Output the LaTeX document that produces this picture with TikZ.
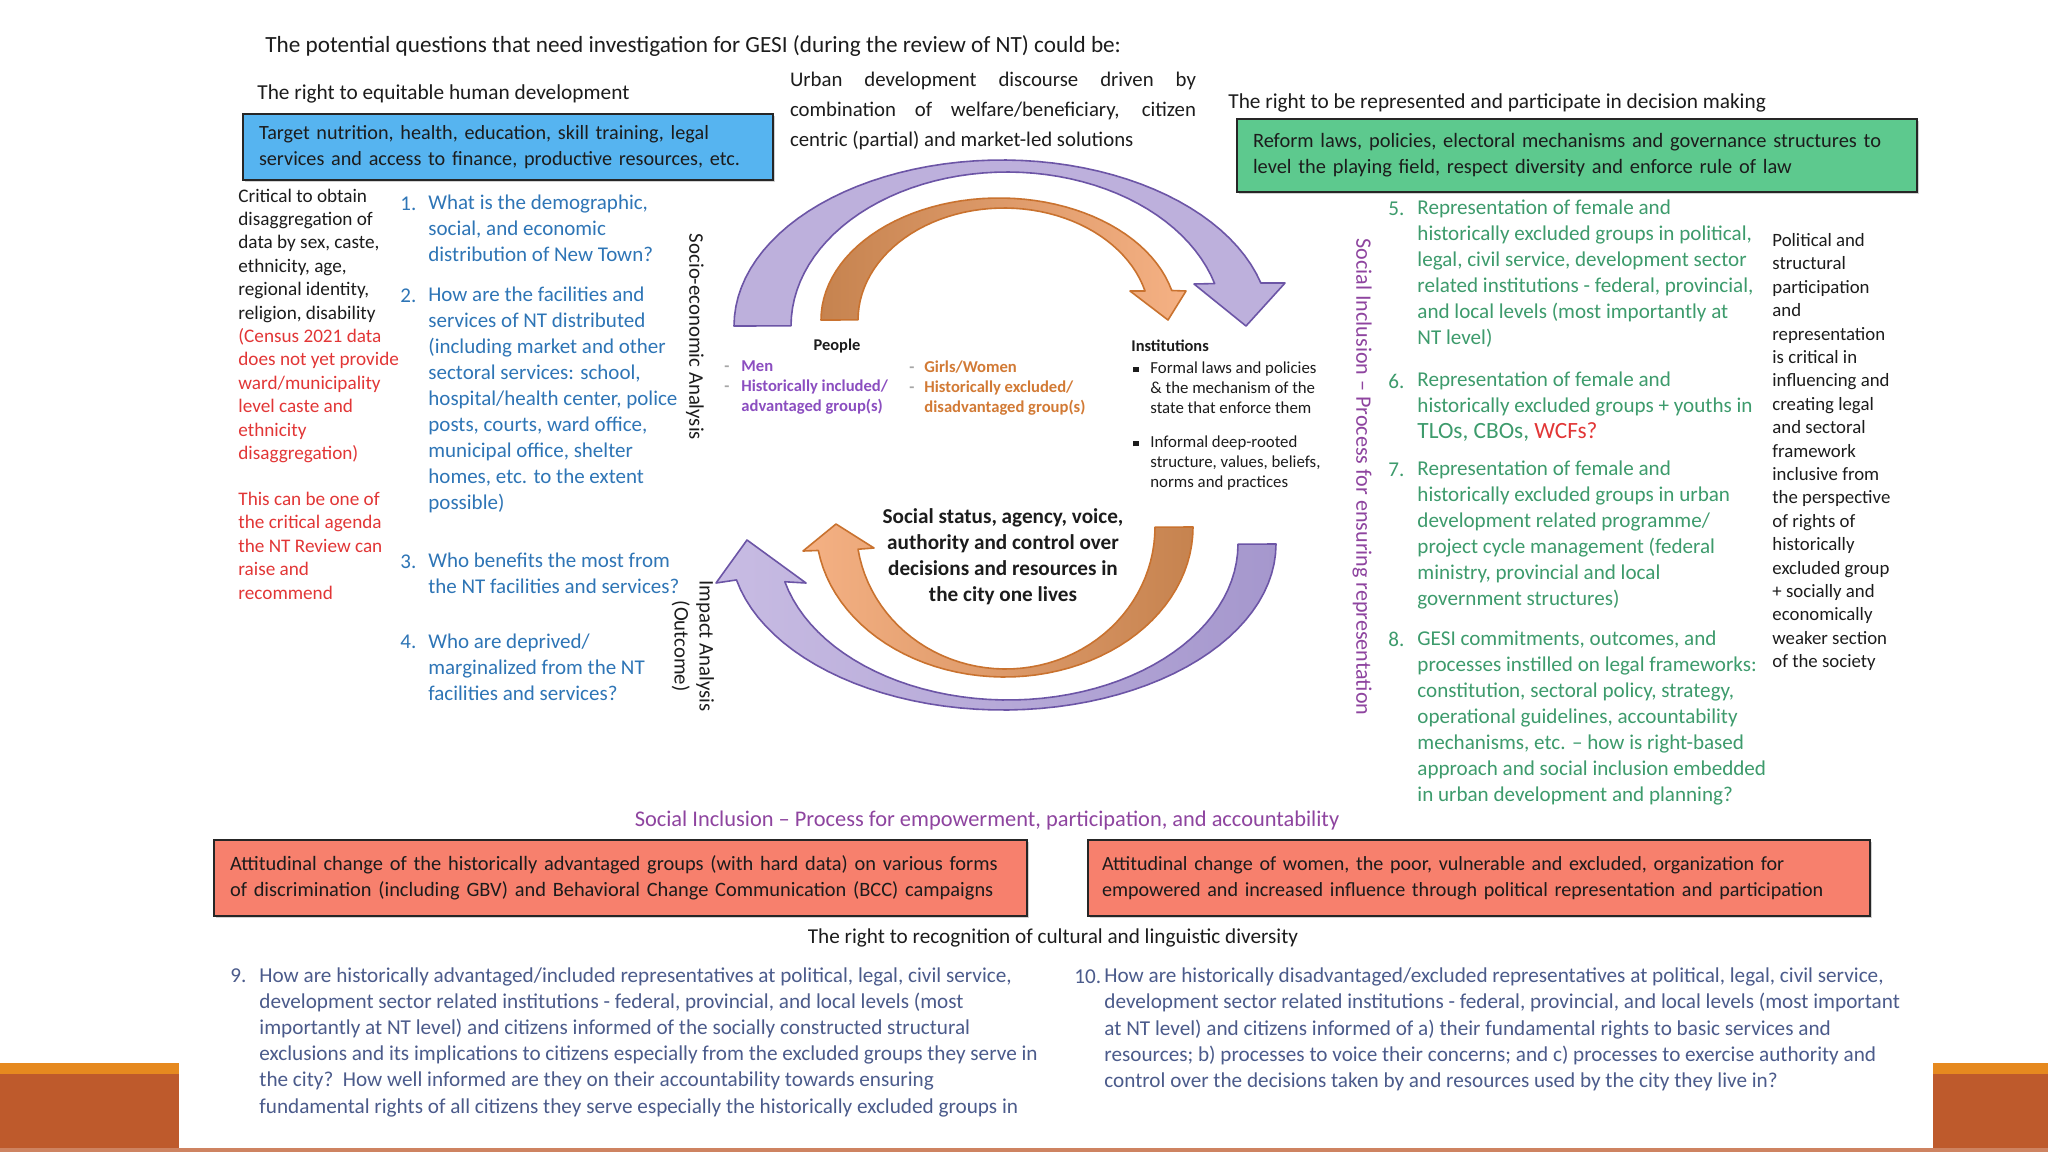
\documentclass[tikz,border=0pt]{standalone}
\usepackage{fontspec}
\setmainfont{Carlito}
\usepackage{xcolor}
\usepackage{tikz}
\usetikzlibrary{positioning,calc,shadows}
\definecolor{ink}{HTML}{1C1C1C}
\definecolor{qblue}{HTML}{2E75B6}
\definecolor{qgreen}{HTML}{3D9B6C}
\definecolor{qslate}{HTML}{4B5B8B}
\definecolor{alert}{HTML}{E23636}
\definecolor{plum}{HTML}{8E449F}
\definecolor{menpurple}{HTML}{8B4EC0}
\definecolor{womenorange}{HTML}{D27A35}
\definecolor{skyfill}{HTML}{56B4F0}
\definecolor{leaffill}{HTML}{5DC98E}
\definecolor{salmonfill}{HTML}{F7806D}
\definecolor{lilac}{HTML}{BDB0DC}
\definecolor{lilaclight}{HTML}{C8BCE3}
\definecolor{lilacdark}{HTML}{A597CD}
\definecolor{lilacedge}{HTML}{6C55A6}
\definecolor{peach}{HTML}{F5B184}
\definecolor{arcbrown}{HTML}{C6834F}
\definecolor{peachedge}{HTML}{C9722F}
\definecolor{rust}{HTML}{BE5A2C}
\definecolor{amberbar}{HTML}{E6891F}
\tikzset{
  every node/.style={inner sep=0pt,text=ink},
  heading/.style={font=\fontsize{11.6}{14}\selectfont},
  rightlabel/.style={font=\fontsize{10.65}{13}\selectfont},
  panel/.style={draw=black!85,line width=0.9pt,align=left,inner xsep=8pt,inner ysep=0pt,
    drop shadow={shadow xshift=0.8pt,shadow yshift=-1pt,opacity=.35}},
  needbox/.style={panel,fill=skyfill,font=\fontsize{10.1}{13}\selectfont},
  reformbox/.style={panel,fill=leaffill,font=\fontsize{10.2}{13}\selectfont},
  attitudebox/.style={panel,fill=salmonfill,font=\fontsize{10.2}{13}\selectfont},
  sidenote/.style={font=\fontsize{9.6}{11.7}\selectfont,align=left},
  bq/.style={font=\fontsize{10.5}{13}\selectfont,align=left,text=qblue},
  gq/.style={font=\fontsize{10.55}{13}\selectfont,align=left,text=qgreen},
  sq/.style={font=\fontsize{10.6}{13.1}\selectfont,align=left,text=qslate},
  vlabel/.style={rotate=-90,font=\fontsize{10.4}{12.5}\selectfont,align=center},
  grp/.style={font=\bfseries\fontsize{8.3}{10}\selectfont,align=left},
  inst/.style={font=\fontsize{8.4}{10}\selectfont,align=left},
  hub/.style={font=\bfseries\fontsize{10.6}{13}\selectfont,align=center},
  arcp/.style={draw=lilacedge,line width=0.8pt,line join=round},
  arco/.style={draw=peachedge,line width=0.8pt,line join=round}
}
\begin{document}
\begin{tikzpicture}[x=0.5pt,y=-0.5pt]
  \fill[white] (0,0) rectangle (2048,1152);
  \useasboundingbox (0,0) rectangle (2048,1152);

  % slide frame
  \fill[rust] (0,1063) rectangle (179,1152);
  \fill[amberbar] (0,1063) rectangle (179,1074);
  \fill[rust] (1933,1063) rectangle (2048,1152);
  \fill[amberbar] (1933,1063) rectangle (2048,1074);
  \fill[rust!75] (0,1148) rectangle (2048,1152);

  % curved arrows
  \filldraw[arcp,fill=lilac] (734,326)
    -- plot[domain=180:345,samples=50] ({1002+268*cos(\x)},{326+166*sin(\x)})
    -- (1285,283) -- (1246,326) -- (1194,284)
    -- plot[domain=0:1,samples=50] ({1007+216*cos(344-164*\x)},{326+154*sin(344-164*\x)})
    -- cycle;
  \shadedraw[arco,left color=arcbrown,right color=peach] (821,320)
    -- plot[domain=180:346,samples=50] ({999+178*cos(\x)},{320+122*sin(\x)})
    -- (1186,291) -- (1168,320) -- (1130,291)
    -- plot[domain=0:1,samples=50] ({1004+146*cos(345-165*\x)},{320+112*sin(345-165*\x)})
    -- cycle;
  \shadedraw[arcp,left color=lilaclight,right color=lilacdark] (1276,544)
    -- plot[domain=0:167.5,samples=50] ({1003+273*cos(\x)},{544+166*sin(\x)})
    -- (716,583) -- (747,540) -- (806,583)
    -- plot[domain=0:1,samples=50] ({1008+230*cos(166-166*\x)},{544+156*sin(166-166*\x)})
    -- cycle;
  \shadedraw[arco,left color=peach,right color=arcbrown] (1193,527)
    -- plot[domain=0:171,samples=50] ({1004.5+188.5*cos(\x)},{527+150*sin(\x)})
    -- (803,551) -- (836,524) -- (874,548)
    -- plot[domain=0:1,samples=50] ({1005.6+149.4*cos(171-171*\x)},{527+142*sin(171-171*\x)})
    -- cycle;

  % top row
  \node[heading,anchor=west] (title) at (265,46) {The potential questions that need investigation for GESI (during the review of NT) could be:};
  \node[rightlabel,anchor=west] (rightdev) at (257,94) {The right to equitable human development};
  \node[needbox,text width=249pt,minimum height=33pt] (needs) at (508,147) {Target nutrition, health, education, skill training, legal\\services and access to finance, productive resources, etc.};
  \node[font=\fontsize{10.4}{15}\selectfont,text width=203pt,align=justify] (discourse) at (993,111) {Urban development discourse driven by\linebreak combination of welfare/beneficiary, citizen\linebreak centric (partial) and market-led solutions};
  \node[rightlabel,anchor=west] (rightrep) at (1228,103) {The right to be represented and participate in decision making};
  \node[reformbox,text width=324pt,minimum height=36.5pt] (reform) at (1577,155.5) {Reform laws, policies, electoral mechanisms and governance structures to\\level the playing field, respect diversity and enforce rule of law};

  % left side
  \node[sidenote,anchor=west] (datanote) at (238,394) {Critical to obtain\\disaggregation of\\data by sex, caste,\\ethnicity, age,\\regional identity,\\religion, disability\\\textcolor{alert}{(Census 2021 data}\\\textcolor{alert}{does not yet provide}\\\textcolor{alert}{ward/municipality}\\\textcolor{alert}{level caste and}\\\textcolor{alert}{ethnicity}\\\textcolor{alert}{disaggregation)}\\[11.3pt]\textcolor{alert}{This can be one of}\\\textcolor{alert}{the critical agenda}\\\textcolor{alert}{the NT Review can}\\\textcolor{alert}{raise and}\\\textcolor{alert}{recommend}};
  \node[bq,anchor=west] (q1) at (428,228.5) {What is the demographic,\\social, and economic\\distribution of New Town?};
  \node[bq,anchor=west] (q2) at (428,400) {How are the facilities and\\services of NT distributed\\(including market and other\\sectoral services: school,\\hospital/health center, police\\posts, courts, ward office,\\municipal office, shelter\\homes, etc. to the extent\\possible)};
  \node[bq,anchor=west] (q3) at (428,573.5) {Who benefits the most from\\the NT facilities and services?};
  \node[bq,anchor=west] (q4) at (428,667) {Who are deprived/\\marginalized from the NT\\facilities and services?};
  \node[bq,anchor=north west] (n1) at ([xshift=-14pt,yshift=-0.8pt]q1.north west) {1.};
  \node[bq,anchor=north west] (n2) at ([xshift=-14pt,yshift=-0.8pt]q2.north west) {2.};
  \node[bq,anchor=north west] (n3) at ([xshift=-14pt,yshift=-0.8pt]q3.north west) {3.};
  \node[bq,anchor=north west] (n4) at ([xshift=-14pt,yshift=-0.8pt]q4.north west) {4.};
  \node[vlabel] (socio) at (695,337) {Socio-economic Analysis};
  \node[vlabel] (impact) at (693,646) {Impact Analysis\\(Outcome)};

  % centre
  \node[font=\bfseries\fontsize{8.2}{10}\selectfont] (people) at (837,346) {People};
  \node[grp,text=menpurple,anchor=west] (men) at (724,388) {\makebox[8.5pt][l]{\textcolor{black!35}{-}}Men\\\makebox[8.5pt][l]{\textcolor{black!35}{-}}Historically included/\\\hspace*{8.5pt}advantaged group(s)};
  \node[grp,text=womenorange,anchor=west] (women) at (909,388) {\makebox[7.5pt][l]{\textcolor{black!35}{-}}Girls/Women\\\makebox[7.5pt][l]{\textcolor{black!35}{-}}Historically excluded/\\\hspace*{7.5pt}disadvantaged group(s)};
  \node[font=\bfseries\fontsize{8.2}{10}\selectfont,anchor=west] (institutions) at (1131,346) {Institutions};
  \node[inst,anchor=west] (rules) at (1133,426) {\makebox[8.5pt][l]{\rule[0.6pt]{2.6pt}{2.6pt}}Formal laws and policies\\\hspace*{8.5pt}\& the mechanism of the\\\hspace*{8.5pt}state that enforce them\\[7pt]\makebox[8.5pt][l]{\rule[0.6pt]{2.6pt}{2.6pt}}Informal deep-rooted\\\hspace*{8.5pt}structure, values, beliefs,\\\hspace*{8.5pt}norms and practices};
  \node[hub] (status) at (1003,557) {Social status, agency, voice,\\authority and control over\\decisions and resources in\\the city one lives};

  % right side
  \node[vlabel,text=plum,font=\fontsize{11.05}{12.5}\selectfont] (ensuring) at (1362,477) {Social Inclusion -- Process for ensuring representation};
  \node[gq,anchor=west] (q5) at (1417,274) {Representation of female and\\historically excluded groups in political,\\legal, civil service, development sector\\related institutions - federal, provincial,\\and local levels (most importantly at\\NT level)};
  \node[gq,anchor=west] (q6) at (1417,407) {Representation of female and\\historically excluded groups + youths in\\{\fontsize{11.65}{13}\selectfont TLOs, CBOs, \textcolor{alert}{WCFs?}}};
  \node[gq,anchor=west] (q7) at (1417,535) {Representation of female and\\historically excluded groups in urban\\development related programme/\\project cycle management (federal\\ministry, provincial and local\\government structures)};
  \node[gq,anchor=west] (q8) at (1417,718) {GESI commitments, outcomes, and\\processes instilled on legal frameworks:\\constitution, sectoral policy, strategy,\\operational guidelines, accountability\\mechanisms, etc. -- how is right-based\\approach and social inclusion embedded\\in urban development and planning?};
  \node[gq,anchor=north west] (n5) at ([xshift=-14.5pt,yshift=-0.8pt]q5.north west) {5.};
  \node[gq,anchor=north west] (n6) at ([xshift=-14.5pt,yshift=-0.8pt]q6.north west) {6.};
  \node[gq,anchor=north west] (n7) at ([xshift=-14.5pt,yshift=-0.8pt]q7.north west) {7.};
  \node[gq,anchor=north west] (n8) at ([xshift=-14.5pt,yshift=-0.8pt]q8.north west) {8.};
  \node[sidenote,font=\fontsize{9.4}{11.7}\selectfont,anchor=west] (politicalnote) at (1772,452) {Political and\\structural\\participation\\and\\representation\\is critical in\\influencing and\\creating legal\\and sectoral\\framework\\inclusive from\\the perspective\\of rights of\\historically\\excluded group\\+ socially and\\economically\\weaker section\\of the society};

  % bottom row
  \node[font=\fontsize{11.2}{13}\selectfont,text=plum] (empower) at (987,821) {Social Inclusion -- Process for empowerment, participation, and accountability};
  \node[attitudebox,text width=390.5pt,minimum height=38pt] (advantaged) at (620.5,878) {Attitudinal change of the historically advantaged groups (with hard data) on various forms\\of discrimination (including GBV) and Behavioral Change Communication (BCC) campaigns};
  \node[attitudebox,font=\fontsize{10.05}{13}\selectfont,inner xsep=7pt,text width=377pt,minimum height=38pt] (excluded) at (1479,878) {Attitudinal change of women, the poor, vulnerable and excluded, organization for\\empowered and increased influence through political representation and participation};
  \node[font=\fontsize{10.6}{12}\selectfont] (rightcult) at (1053,938) {The right to recognition of cultural and linguistic diversity};
  \node[sq,anchor=west] (q9) at (259,1042) {How are historically advantaged/included representatives at political, legal, civil service,\\development sector related institutions - federal, provincial, and local levels (most\\importantly at NT level) and citizens informed of the socially constructed structural\\exclusions and its implications to citizens especially from the excluded groups they serve in\\the city?\ \ How well informed are they on their accountability towards ensuring\\fundamental rights of all citizens they serve especially the historically excluded groups in};
  \node[sq,anchor=west] (q10) at (1104,1029.5) {How are historically disadvantaged/excluded representatives at political, legal, civil service,\\development sector related institutions - federal, provincial, and local levels (most important\\at NT level) and citizens informed of a) their fundamental rights to basic services and\\resources; b) processes to voice their concerns; and c) processes to exercise authority and\\control over the decisions taken by and resources used by the city they live in?};
  \node[sq,anchor=north west] (n9) at ([xshift=-14.5pt,yshift=-0.8pt]q9.north west) {9.};
  \node[sq,anchor=north west] (n10) at ([xshift=-15pt,yshift=-0.8pt]q10.north west) {10.};
\end{tikzpicture}
\end{document}
